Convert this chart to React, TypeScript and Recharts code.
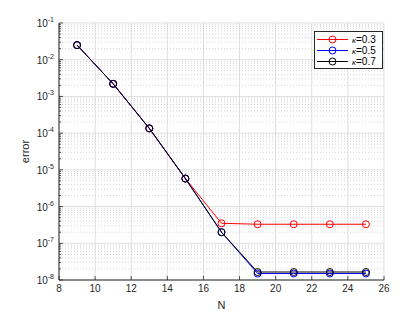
import React from 'react';
import {
  LineChart,
  Line,
  XAxis,
  YAxis,
  CartesianGrid,
  ReferenceLine,
} from 'recharts';

// values
const nValues = [9, 11, 13, 15, 17, 19, 21, 23, 25];
const errK03 = [2.5e-2, 2.2e-3, 1.35e-4, 5.8e-6, 3.5e-7, 3.3e-7, 3.3e-7, 3.3e-7, 3.3e-7];
const errK05 = [2.5e-2, 2.2e-3, 1.35e-4, 5.8e-6, 2.0e-7, 1.5e-8, 1.5e-8, 1.5e-8, 1.5e-8];
const errK07 = [2.5e-2, 2.2e-3, 1.35e-4, 5.8e-6, 2.0e-7, 1.65e-8, 1.65e-8, 1.65e-8, 1.65e-8];

const xTicks = [8, 10, 12, 14, 16, 18, 20, 22, 24, 26];
const yExponents = [-8, -7, -6, -5, -4, -3, -2, -1];
const majorTicks = yExponents.map((e) => Math.pow(10, e));
const minorTicks: number[] = [];
yExponents.slice(0, -1).forEach((e) => {
  for (let m = 2; m <= 9; m++) minorTicks.push(m * Math.pow(10, e));
});
const allYTicks = [...majorTicks, ...minorTicks].sort((a, b) => a - b);

const series = [
  { key: 'k03', label: '0.3', color: '#ff0000', values: errK03 },
  { key: 'k05', label: '0.5', color: '#0000ff', values: errK05 },
  { key: 'k07', label: '0.7', color: '#000000', values: errK07 },
];

const data = nValues.map((n, i) => ({
  N: n,
  k03: errK03[i],
  k05: errK05[i],
  k07: errK07[i],
}));

const AXIS = '#262626';
const FONT = '"Liberation Sans", Arial, Helvetica, sans-serif';

const isMajor = (v: number) => majorTicks.some((m) => Math.abs(m - v) / m < 1e-6);

const LeftTick = (props: any) => {
  const { x, y, payload } = props;
  const v = payload.value;
  const major = isMajor(v);
  const axisX = x + 4;
  return (
    <g>
      <line x1={axisX} x2={axisX + (major ? 4 : 2)} y1={y} y2={y} stroke={AXIS} strokeWidth={0.8} />
      {major && (
        <text x={x - 1} y={y + 4} textAnchor="end" fontSize={10} fill={AXIS} fontFamily={FONT}>
          10
          <tspan dy={-5} fontSize={7}>
            {Math.round(Math.log10(v))}
          </tspan>
        </text>
      )}
    </g>
  );
};

const RightTick = (props: any) => {
  const { x, y, payload } = props;
  const major = isMajor(payload.value);
  return (
    <line x1={x} x2={x - (major ? 4 : 2)} y1={y} y2={y} stroke={AXIS} strokeWidth={0.8} />
  );
};

const BottomTick = (props: any) => {
  const { x, y, payload } = props;
  const axisY = y - 6;
  return (
    <g>
      <line x1={x} x2={x} y1={axisY} y2={axisY - 4} stroke={AXIS} strokeWidth={0.8} />
      <text x={x} y={y + 6} textAnchor="middle" fontSize={10} fill={AXIS} fontFamily={FONT}>
        {payload.value}
      </text>
    </g>
  );
};

const TopTick = (props: any) => {
  const { x, y } = props;
  return <line x1={x} x2={x} y1={y} y2={y + 4} stroke={AXIS} strokeWidth={0.8} />;
};

const LegendBox = () => (
  <div
    style={{
      position: 'absolute',
      left: 314,
      top: 31,
      width: 69,
      height: 38,
      border: '1px solid #262626',
      background: '#fff',
      fontFamily: FONT,
      fontSize: 10,
      color: '#000',
      boxSizing: 'border-box',
      paddingTop: 2,
    }}
  >
    {series.map((s) => (
      <div key={s.key} style={{ display: 'flex', alignItems: 'center', height: 11 }}>
        <svg width={35} height={11}>
          <line x1={2} x2={33} y1={5.5} y2={5.5} stroke={s.color} strokeWidth={1} />
          <circle cx={17.5} cy={5.5} r={3.5} fill="none" stroke={s.color} strokeWidth={1} />
        </svg>
        <span style={{ marginLeft: 2, lineHeight: '11px' }}>
          <span style={{ fontSize: 8, fontStyle: 'italic' }}>κ</span>=
          {s.label}
        </span>
      </div>
    ))}
  </div>
);

export default function App() {
  return (
    <div style={{ position: 'absolute', left: 0, top: 0, width: 417, height: 315, background: '#fff' }}>
      <LineChart
        width={417}
        height={315}
        data={data}
        margin={{ top: 23, right: 33, bottom: 0, left: 0 }}
      >
        <CartesianGrid horizontal={false} stroke="#dfdfdf" strokeWidth={1} />
        {minorTicks.map((v) => (
          <ReferenceLine key={'mi' + v} y={v} stroke="#d4d4d4" strokeDasharray="1 2" strokeWidth={1} />
        ))}
        {majorTicks.map((v) => (
          <ReferenceLine key={'ma' + v} y={v} stroke="#dfdfdf" strokeWidth={1} />
        ))}
        <XAxis
          dataKey="N"
          type="number"
          domain={[8, 26]}
          ticks={xTicks}
          interval={0}
          height={35}
          tickSize={0}
          tickMargin={6}
          tickLine={false}
          stroke={AXIS}
          tick={<BottomTick />}
          label={{ value: 'N', position: 'center', dy: 8, fontSize: 11, fill: AXIS, fontFamily: FONT }}
        />
        <XAxis
          xAxisId="top"
          orientation="top"
          type="number"
          domain={[8, 26]}
          ticks={xTicks}
          interval={0}
          height={0}
          tickSize={0}
          tickMargin={0}
          tickLine={false}
          stroke={AXIS}
          tick={<TopTick />}
        />
        <YAxis
          scale="log"
          type="number"
          domain={[1e-8, 1e-1]}
          allowDataOverflow
          ticks={allYTicks}
          interval={0}
          width={59}
          tickSize={0}
          tickMargin={4}
          tickLine={false}
          stroke={AXIS}
          tick={<LeftTick />}
          label={{ value: 'error', angle: -90, position: 'center', dx: -4, fontSize: 11, fill: AXIS, fontFamily: FONT }}
        />
        <YAxis
          yAxisId="right"
          orientation="right"
          scale="log"
          type="number"
          domain={[1e-8, 1e-1]}
          allowDataOverflow
          ticks={allYTicks}
          interval={0}
          width={0}
          tickSize={0}
          tickMargin={0}
          tickLine={false}
          stroke={AXIS}
          tick={<RightTick />}
        />
        {series.map((s) => (
          <Line
            key={s.key}
            dataKey={s.key}
            stroke={s.color}
            strokeWidth={1}
            dot={{ r: 3.5, fill: 'none', stroke: s.color, strokeWidth: 1 }}
            activeDot={false}
            isAnimationActive={false}
          />
        ))}
      </LineChart>
      <LegendBox />
    </div>
  );
}
